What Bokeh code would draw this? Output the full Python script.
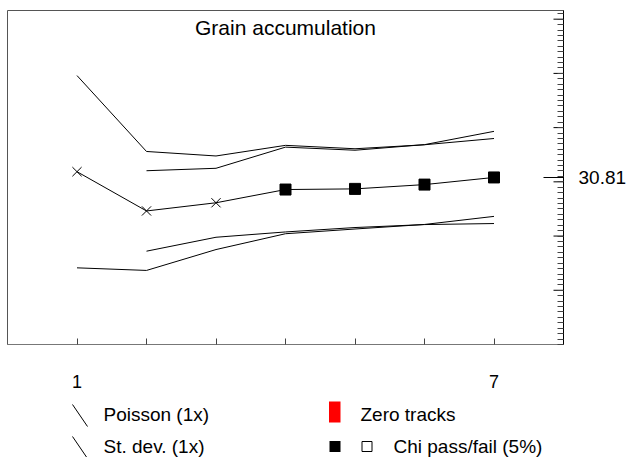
from bokeh.plotting import figure
from bokeh.models import Range1d, LinearAxis, FixedTicker
from bokeh.layouts import column
from bokeh.embed import file_html
from bokeh.resources import INLINE
from bokeh.core.properties import value

# ---- data ----
steps = [1, 2, 3, 4, 5, 6, 7]
mean_vals = [31.87, 24.63, 26.14, 28.58, 28.70, 29.49, 30.81]
poisson_dev = [17.73, 10.97, 8.63, 8.15, 7.40, 7.35, 7.18]
sd_steps = [2, 3, 4, 5, 6, 7]
sd_dev = [7.42, 6.36, 7.82, 7.13, 7.37, 8.50]
chi_status = ["none", "none", "none", "pass", "pass", "pass", "pass"]
x_labelled = [1, 7]
y_major = [0, 10, 20, 30, 40, 50, 60]
y_minor = list(range(0, 62))
title_text = "Grain accumulation"
legend_left = ["Poisson (1x)", "St. dev. (1x)"]
legend_right = ["Zero tracks", "Chi pass/fail (5%)"]

FONT = "Liberation Sans"
W = 633
TOP_H = 394
LEG_H = 63
X_MAX = 8
B_LEFT, B_RIGHT = 7, 70
PX_PER_X = (W - B_LEFT - B_RIGHT) / X_MAX

p = figure(width=W, height=TOP_H, x_range=Range1d(0, X_MAX), y_range=Range1d(0, 61.6),
           x_axis_type=None, y_axis_type=None, toolbar_location=None,
           output_backend="svg", min_border_left=B_LEFT, min_border_top=10,
           min_border_right=B_RIGHT, min_border_bottom=47)
p.outline_line_color = "#555555"
p.background_fill_color = "white"
p.border_fill_color = "white"

xaxis = LinearAxis(ticker=FixedTicker(ticks=steps, minor_ticks=[]),
                   major_tick_in=6, major_tick_out=0, major_label_standoff=27,
                   axis_line_color="#777777", major_tick_line_color="#444444",
                   major_label_text_font=FONT, major_label_text_font_size="18px",
                   major_label_text_color="black",
                   major_label_overrides={s: (str(s) if s in x_labelled else " ") for s in steps})
p.add_layout(xaxis, "below")

overall = mean_vals[-1]
yaxis = LinearAxis(ticker=FixedTicker(ticks=[overall], minor_ticks=y_minor),
                   major_tick_in=20, major_tick_out=0, minor_tick_in=6, minor_tick_out=0,
                   major_label_standoff=15, major_label_text_font=FONT,
                   major_label_text_font_size="19px", major_label_text_color="black",
                   major_label_overrides={overall: f"{overall:.2f}"},
                   axis_line_color="black", major_tick_line_color="black",
                   minor_tick_line_color="#444444")
p.add_layout(yaxis, "right")

# longer ticks every 10 units on the right axis
p.segment(x0=[X_MAX - 10 / PX_PER_X] * len(y_major), x1=[X_MAX] * len(y_major),
          y0=y_major, y1=y_major, line_color="black", line_width=1)

p_up = [m + d for m, d in zip(mean_vals, poisson_dev)]
p_lo = [m - d for m, d in zip(mean_vals, poisson_dev)]
sd_mean = [mean_vals[s - 1] for s in sd_steps]
sd_up = [m + d for m, d in zip(sd_mean, sd_dev)]
sd_lo = [m - d for m, d in zip(sd_mean, sd_dev)]

for ys in (p_up, p_lo):
    p.line(steps, ys, line_color="black", line_width=1)
for ys in (sd_up, sd_lo):
    p.line(sd_steps, ys, line_color="black", line_width=1)
p.line(steps, mean_vals, line_color="black", line_width=1)

x_none = [s for s, c in zip(steps, chi_status) if c == "none"]
y_none = [m for m, c in zip(mean_vals, chi_status) if c == "none"]
x_pass = [s for s, c in zip(steps, chi_status) if c == "pass"]
y_pass = [m for m, c in zip(mean_vals, chi_status) if c == "pass"]
p.scatter(x_none, y_none, marker="x", size=13, line_color="black", line_width=1)
p.scatter(x_pass, y_pass, marker="square", size=11, fill_color="black", line_color="black")

p.text(x=[X_MAX / 2], y=[58.5], text=[title_text], text_align="center",
       text_baseline="middle", text_font=value(FONT), text_font_size="21px",
       text_color="black")

# ---- legend panel (pixel-like coordinates, frame aligned with the plot above) ----
q = figure(width=W, height=LEG_H, x_range=Range1d(B_LEFT, W - B_RIGHT),
           y_range=Range1d(457, 394), x_axis_type=None, y_axis_type=None,
           toolbar_location=None, output_backend="svg",
           min_border_left=B_LEFT, min_border_right=B_RIGHT,
           min_border_top=0, min_border_bottom=0)
q.outline_line_color = None
q.background_fill_color = "white"
q.border_fill_color = "white"

rows = [414, 446]
q.segment(x0=[72, 72], x1=[87, 87], y0=[r - 10 for r in rows], y1=[r + 12 for r in rows],
          line_color="black", line_width=1)
q.text(x=[103, 103], y=rows, text=legend_left, text_baseline="middle",
       text_font=value(FONT), text_font_size="19px", text_color="black")
q.quad(left=[328.5], right=[340], top=[401], bottom=[422], fill_color="red", line_color=None)
q.quad(left=[329], right=[340], top=[rows[1] - 5.5], bottom=[rows[1] + 5.5],
       fill_color="black", line_color=None)
q.quad(left=[361.5], right=[371.5], top=[rows[1] - 5], bottom=[rows[1] + 5],
       fill_color="white", line_color="black", line_width=1)
q.text(x=[360, 393], y=rows, text=legend_right, text_baseline="middle",
       text_font=value(FONT), text_font_size="19px", text_color="black")

layout = column(p, q)
open("out.html", "w").write(file_html(layout, INLINE))
